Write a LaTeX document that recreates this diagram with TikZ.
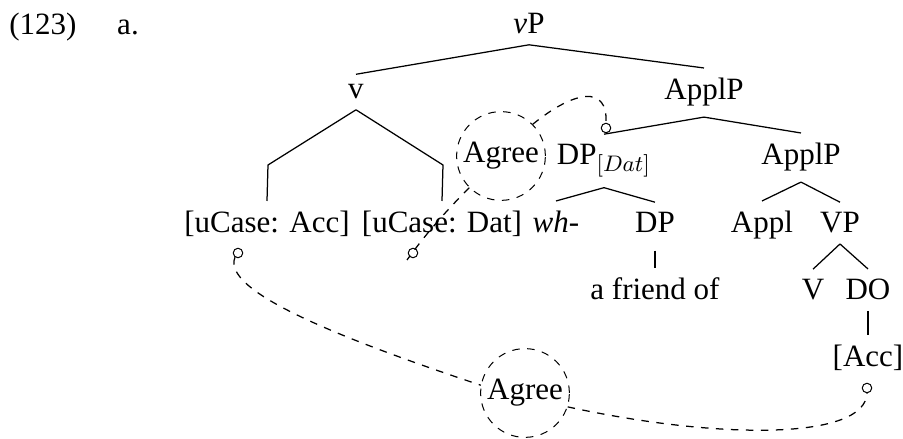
\documentclass[tikz,border=0pt]{standalone}
\usepackage{fontspec}
\setmainfont{Liberation Serif}
\begin{document}
\begin{tikzpicture}[x=0.4pt,y=-0.4pt,
  lbl/.style={inner xsep=0pt,inner ysep=4pt,font=\fontsize{12.4pt}{14pt}\selectfont},
  txt/.style={inner sep=0pt,anchor=base,font=\fontsize{12.4pt}{14pt}\selectfont},
  agree/.style={circle,draw,dashed,inner sep=0pt,minimum size=35.5pt,font=\fontsize{12.4pt}{14pt}\selectfont},
  dot/.style={circle,draw,inner sep=0pt,minimum size=3.8pt},
  edge/.style={line width=0.5pt},
  dline/.style={dashed,line width=0.5pt}]
\useasboundingbox (0,0) rectangle (903,439);
% labels
\node[txt] (ex) at (43,35) {(123)};
\node[txt] (exa) at (128,35) {a.};
% tree nodes
\node[lbl,anchor=base] (vP) at (529,34) {\textit{v}P};
\node[lbl,anchor=base] (v) at (356,99) {v};
\node[lbl,anchor=base] (ApplP) at (704,100) {ApplP};
\node[lbl,anchor=base] (DPd) at (604,165) {DP$_{[Dat]}$};
\node[lbl,anchor=base] (ApplPb) at (801,165) {ApplP};
\node[lbl,anchor=base] (uAcc) at (267,233) {[uCase: Acc]};
\node[lbl,anchor=base] (uDat) at (442,233) {[uCase: Dat]};
\node[lbl,anchor=base] (wh) at (556,233) {\textit{wh}-};
\node[lbl,anchor=base] (DP) at (655,233) {DP};
\node[lbl,anchor=base] (Appl) at (762,233) {Appl};
\node[lbl,anchor=base] (VP) at (840,233) {VP};
\node[lbl,anchor=base] (fr) at (655,300) {a friend of};
\node[lbl,anchor=base] (V) at (813,300) {V};
\node[lbl,anchor=base] (DO) at (868,300) {DO};
\node[lbl,anchor=base] (Acc) at (868,367) {[Acc]};
% agree circles
\node[agree] (ag1) at (501,156) {Agree};
\node[agree] (ag2) at (525,393) {Agree};
% small circles
\node[dot] (c1) at (606,128) {};
\node[dot] (c2) at (413,253) {};
\node[dot] (c3) at (238,253) {};
\node[dot] (c4) at (867,388) {};
\coordinate (bendL) at (268,165);
\coordinate (bendR) at (443,165);
\coordinate (e2) at (407,260);
% tree edges
\draw[edge] (vP.south) -- (v.north);
\draw[edge] (vP.south) -- (ApplP.north);
\draw[edge] (v.south) -- (bendL) -- (uAcc.north);
\draw[edge] (v.south) -- (bendR) -- (uDat.north);
\draw[edge] (ApplP.south) -- (DPd.north);
\draw[edge] (ApplP.south) -- (ApplPb.north);
\draw[edge] (DPd.south) -- (wh.north);
\draw[edge] (DPd.south) -- (DP.north);
\draw[edge] (ApplPb.south) -- (Appl.north);
\draw[edge] (ApplPb.south) -- (VP.north);
\draw[edge] ([yshift=-2.8pt]DP.south) -- (fr.north);
\draw[edge] (VP.south) -- (V.north);
\draw[edge] (VP.south) -- (DO.north);
\draw[edge] (DO.south) -- (Acc.north);
% agree links
\draw[dline] (ag1.45) .. controls (575,90) and (608,85) .. (c1.north);
\draw[dline] (ag1.225) .. controls (445,212) and (425,235) .. (e2);
\draw[dline] (c3.235) .. controls (222,290) and (330,335) .. (ag2.170);
\draw[dline] (ag2.-18) .. controls (720,440) and (865,440) .. (c4.south);
\end{tikzpicture}
\end{document}
